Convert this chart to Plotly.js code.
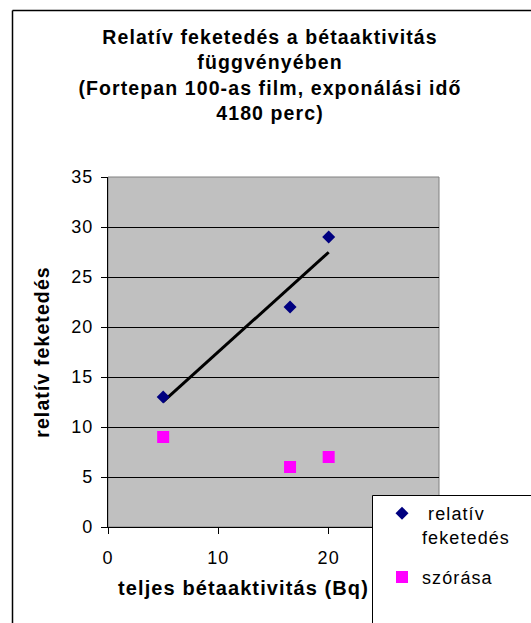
<!DOCTYPE html>
<html>
<head>
<meta charset="utf-8">
<script src="https://cdn.plot.ly/plotly-3.0.1.min.js"></script>
<style>
html,body{margin:0;padding:0;background:#fff;}
svg text{letter-spacing:1.1px;}
</style>
</head>
<body>
<div id="chart" style="width:531px;height:623px;"></div>
<script>
// Data
const relX = [5, 16.5, 20];
const relY = [13, 22, 29];
const szX = [5, 16.5, 20];
const szY = [9, 6, 7];
const relName = " relatív<br>feketedés";
const szName = "szórása";
const xTicks = [0, 10, 20];
const yTicks = [0, 5, 10, 15, 20, 25, 30, 35];

// Linear trendline (least squares) over the relatív feketedés series
function linFit(xs, ys) {
  const n = xs.length;
  const mx = xs.reduce((a, b) => a + b, 0) / n;
  const my = ys.reduce((a, b) => a + b, 0) / n;
  let sxy = 0, sxx = 0;
  for (let i = 0; i < n; i++) { sxy += (xs[i] - mx) * (ys[i] - my); sxx += (xs[i] - mx) ** 2; }
  const m = sxy / sxx, b = my - m * mx;
  const x0 = Math.min(...xs), x1 = Math.max(...xs);
  return { x: [x0, x1], y: [m * x0 + b, m * x1 + b] };
}
const fit = linFit(relX, relY);

const FONT = "Liberation Sans, Arial, sans-serif";

const traces = [
  {
    x: fit.x, y: fit.y, mode: "lines", type: "scatter",
    line: { color: "#000000", width: 3 }, showlegend: false, hoverinfo: "skip"
  },
  {
    x: relX, y: relY, mode: "markers", type: "scatter", name: relName, legendgroup: "a",
    marker: { symbol: "diamond", color: "#000080", size: 10, line: { width: 0 } }
  },
  {
    x: szX, y: szY, mode: "markers", type: "scatter", name: szName, legendgroup: "b",
    marker: { symbol: "square", color: "#FF00FF", size: 12, line: { width: 0 } }
  }
];

const L = 108, R = 439, T = 177, B = 527;
const px2x = p => (p - L) / (R - L);
const px2y = p => (B - p) / (B - T);

const layout = {
  width: 531, height: 623,
  margin: { l: L, r: 531 - R, t: T, b: 623 - B, pad: 0 },
  paper_bgcolor: "#FFFFFF",
  plot_bgcolor: "#C0C0C0",
  font: { family: FONT, color: "#000000", size: 18 },
  title: {
    text: "<b>Relatív feketedés a bétaaktivitás<br>függvényében<br>(Fortepan 100-as film, exponálási idő<br>4180 perc)</b>",
    font: { family: FONT, size: 19.5, color: "#000000" },
    xref: "container", yref: "container",
    x: 270 / 531, xanchor: "center",
    y: 1 - 44 / 623, yanchor: "top"
  },
  xaxis: {
    range: [0, 30], tickvals: xTicks, ticktext: xTicks.map(String),
    ticks: "outside", ticklen: 6, tickcolor: "#000000", tickwidth: 1,
    showline: true, linecolor: "#000000", linewidth: 1,
    showgrid: false, zeroline: false,
    tickfont: { family: FONT, size: 18 },
    ticklabelstandoff: 8,
    fixedrange: true
  },
  yaxis: {
    range: [0, 35], tickvals: yTicks, ticktext: yTicks.map(String),
    ticks: "outside", ticklen: 6, tickcolor: "#000000", tickwidth: 1,
    showline: true, linecolor: "#000000", linewidth: 1,
    showgrid: true, gridcolor: "#000000", gridwidth: 1,
    zeroline: false,
    tickfont: { family: FONT, size: 18 },
    ticklabelstandoff: 4,
    title: {
      text: "<b>relatív feketedés</b>",
      font: { family: FONT, size: 19.5 },
      standoff: 16
    },
    fixedrange: true
  },
  annotations: [
    {
      text: "<b>teljes bétaaktivitás (Bq)</b>",
      xref: "paper", yref: "paper",
      x: px2x(243), y: px2y(588), xanchor: "center", yanchor: "middle",
      showarrow: false,
      font: { family: FONT, size: 20, color: "#000000" }
    }
  ],
  legend: {
    x: px2x(382), xanchor: "left",
    y: px2y(495), yanchor: "top",
    bgcolor: "rgba(0,0,0,0)", borderwidth: 0,
    font: { family: FONT, size: 18, color: "#000000" },
    valign: "top", tracegroupgap: 14
  },
  shapes: [
    // plot area border
    { type: "rect", xref: "paper", yref: "paper", x0: 0, x1: 1, y0: 0, y1: 1,
      line: { color: "#808080", width: 1 }, layer: "below" },
    // outer chart border (left and top edges; right/bottom lie outside the picture)
    { type: "line", xref: "paper", yref: "paper",
      x0: px2x(12.5), x1: px2x(12.5), y0: px2y(640), y1: px2y(10.5),
      line: { color: "#000000", width: 1.5 }, layer: "above" },
    { type: "line", xref: "paper", yref: "paper",
      x0: px2x(12.5), x1: px2x(560), y0: px2y(10.5), y1: px2y(10.5),
      line: { color: "#000000", width: 1.5 }, layer: "above" },
    // legend box
    { type: "rect", xref: "paper", yref: "paper",
      x0: px2x(372.5), x1: px2x(560), y0: px2y(650), y1: px2y(495.5),
      line: { color: "#000000", width: 1 }, fillcolor: "#FFFFFF", layer: "above" }
  ],
  showlegend: true
};

Plotly.newPlot("chart", traces, layout, { displayModeBar: false, staticPlot: true });
</script>
</body>
</html>
